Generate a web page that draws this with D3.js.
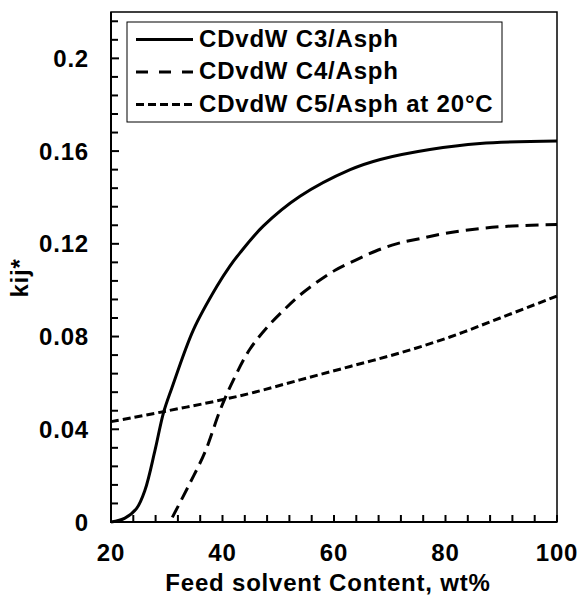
<!DOCTYPE html>
<html>
<head>
<meta charset="utf-8">
<script src="https://cdn.jsdelivr.net/npm/d3@7"></script>
<style>
  body { margin: 0; background: #fff; }
  text { font-family: Arial, "Liberation Sans", sans-serif; font-weight: bold; fill: #000; }
</style>
</head>
<body>
<div id="plot"></div>
<script>
// data
var feedC3 = [20, 22.5, 24.6, 26.1, 27.9, 29.4, 30.9, 34.8, 39.0, 41.3, 43.1, 47.3, 53.9, 62.9, 68.3, 77.2, 86.2, 100];
var kijC3 = [0, 0.0017, 0.0059, 0.0138, 0.031, 0.047, 0.0577, 0.083, 0.1017, 0.1103, 0.116, 0.1276, 0.1405, 0.152, 0.1564, 0.1607, 0.1633, 0.1643];

var feedC4 = [31.0, 34.0, 36.9, 39.6, 41.9, 44.9, 48.2, 50.9, 53.6, 56.9, 60.2, 63.8, 67.4, 71.2, 75.1, 80, 86.2, 92, 100];
var kijC4 = [0.002, 0.016, 0.0304, 0.0484, 0.061, 0.0745, 0.0845, 0.0912, 0.0973, 0.1034, 0.1086, 0.1129, 0.1168, 0.120, 0.1221, 0.1245, 0.1266, 0.1277, 0.1283];

var feedC5 = [20, 29.4, 39.9, 45.3, 53.9, 62.9, 71.8, 80.8, 89.8, 100];
var kijC5 = [0.0433, 0.0476, 0.0527, 0.0557, 0.0613, 0.0671, 0.0729, 0.0798, 0.0880, 0.0975];

var seriesNames = ["CDvdW C3/Asph", "CDvdW C4/Asph", "CDvdW C5/Asph at 20\u00b0C"];
var xTicks = [20, 40, 60, 80, 100];
var yTicks = [0, 0.04, 0.08, 0.12, 0.16, 0.2];

var series = [
  { name: seriesNames[0], x: feedC3, y: kijC3, dash: null, legDash: null },
  { name: seriesNames[1], x: feedC4, y: kijC4, dash: "13,7", legDash: "12,11" },
  { name: seriesNames[2], x: feedC5, y: kijC5, dash: "8,4", legDash: "8,4" }
];

var margin = { top: 12, right: 27, bottom: 74, left: 111 },
  width = 584 - margin.left - margin.right,
  height = 596 - margin.top - margin.bottom;

var svg = d3.select("#plot").append("svg")
  .attr("width", 584)
  .attr("height", 596)
  .append("g")
  .attr("transform", "translate(" + margin.left + "," + margin.top + ")");

var xScale = d3.scaleLinear().domain([20, 100]).range([0, width]);
var yScale = d3.scaleLinear().domain([0, 0.22]).range([height, 0]);

// inward ticks, every 4 wt% and every 0.008
var xMinor = d3.range(20, 100.01, 4);
var yMinor = d3.range(0, 0.2201, 0.008);

// lines
var line = d3.line()
  .x(function(d) { return xScale(d[0]); })
  .y(function(d) { return yScale(d[1]); })
  .curve(d3.curveCatmullRom.alpha(0.5));

svg.append("g").selectAll("path")
  .data(series).enter()
  .append("path")
  .attr("d", function(s) { return line(d3.zip(s.x, s.y)); })
  .attr("fill", "none")
  .attr("stroke", "#000")
  .attr("stroke-width", 3)
  .attr("stroke-dasharray", function(s) { return s.dash; });

// frame
svg.append("rect")
  .attr("width", width)
  .attr("height", height)
  .attr("fill", "none")
  .attr("stroke", "#000")
  .attr("stroke-width", 1.5);

svg.append("path")
  .attr("d", "M0,0V" + height + "H" + width)
  .attr("fill", "none")
  .attr("stroke", "#000")
  .attr("stroke-width", 2);

// ticks
var tickG = svg.append("g").attr("class", "ticks");
tickG.selectAll("line.xt")
  .data(xMinor).enter()
  .append("line")
  .attr("class", "xt")
  .attr("x1", function(d) { return xScale(d); })
  .attr("x2", function(d) { return xScale(d); })
  .attr("y1", height)
  .attr("y2", height - 7)
  .style("stroke", "#000")
  .style("stroke-width", "2px");
tickG.selectAll("line.yt")
  .data(yMinor).enter()
  .append("line")
  .attr("class", "yt")
  .attr("x1", 0)
  .attr("x2", function(d) { return yTicks.some(function(t) { return Math.abs(t - d) < 1e-6; }) ? 8 : 7; })
  .attr("y1", function(d) { return yScale(d); })
  .attr("y2", function(d) { return yScale(d); })
  .style("stroke", "#000")
  .style("stroke-width", "2px");

// tick labels
svg.append("g").selectAll("text")
  .data(xTicks).enter()
  .append("text")
  .attr("x", function(d) { return xScale(d); })
  .attr("y", height + 39)
  .attr("text-anchor", "middle")
  .style("font-size", "24px")
  .style("letter-spacing", "0.8px")
  .text(function(d) { return d; });

svg.append("g").selectAll("text")
  .data(yTicks).enter()
  .append("text")
  .attr("x", -22)
  .attr("y", function(d) { return yScale(d) + 8.5; })
  .attr("text-anchor", "end")
  .style("font-size", "24px")
  .style("letter-spacing", "0.8px")
  .text(function(d) { return d === 0 ? "0" : String(d); });

// legend
var legend = svg.append("g").attr("transform", "translate(16,10)");
legend.append("rect")
  .attr("width", 375)
  .attr("height", 100)
  .attr("fill", "#fff")
  .attr("stroke", "#000")
  .attr("stroke-width", 1);

var rows = legend.selectAll("g.row")
  .data(series).enter()
  .append("g")
  .attr("class", "row")
  .attr("transform", function(d, i) { return "translate(0," + (17.5 + i * 32.5) + ")"; });

rows.append("line")
  .attr("x1", 9).attr("x2", 66)
  .attr("stroke", "#000")
  .attr("stroke-width", 3)
  .attr("stroke-dasharray", function(s) { return s.legDash; });

rows.append("text")
  .attr("x", 72)
  .attr("y", 7)
  .style("font-size", "24px")
  .style("letter-spacing", "0.8px")
  .text(function(s) { return s.name; });

// axis titles
svg.append("text")
  .attr("x", width / 2 - 6)
  .attr("y", height + 69)
  .attr("text-anchor", "middle")
  .style("font-size", "24px")
  .style("letter-spacing", "0.8px")
  .text("Feed solvent Content, wt%");

svg.append("text")
  .attr("transform", "translate(" + (28 - margin.left) + "," + (266) + ") rotate(-90)")
  .attr("text-anchor", "middle")
  .style("font-size", "24px")
  .style("letter-spacing", "0.8px")
  .text("kij*");
</script>
</body>
</html>
